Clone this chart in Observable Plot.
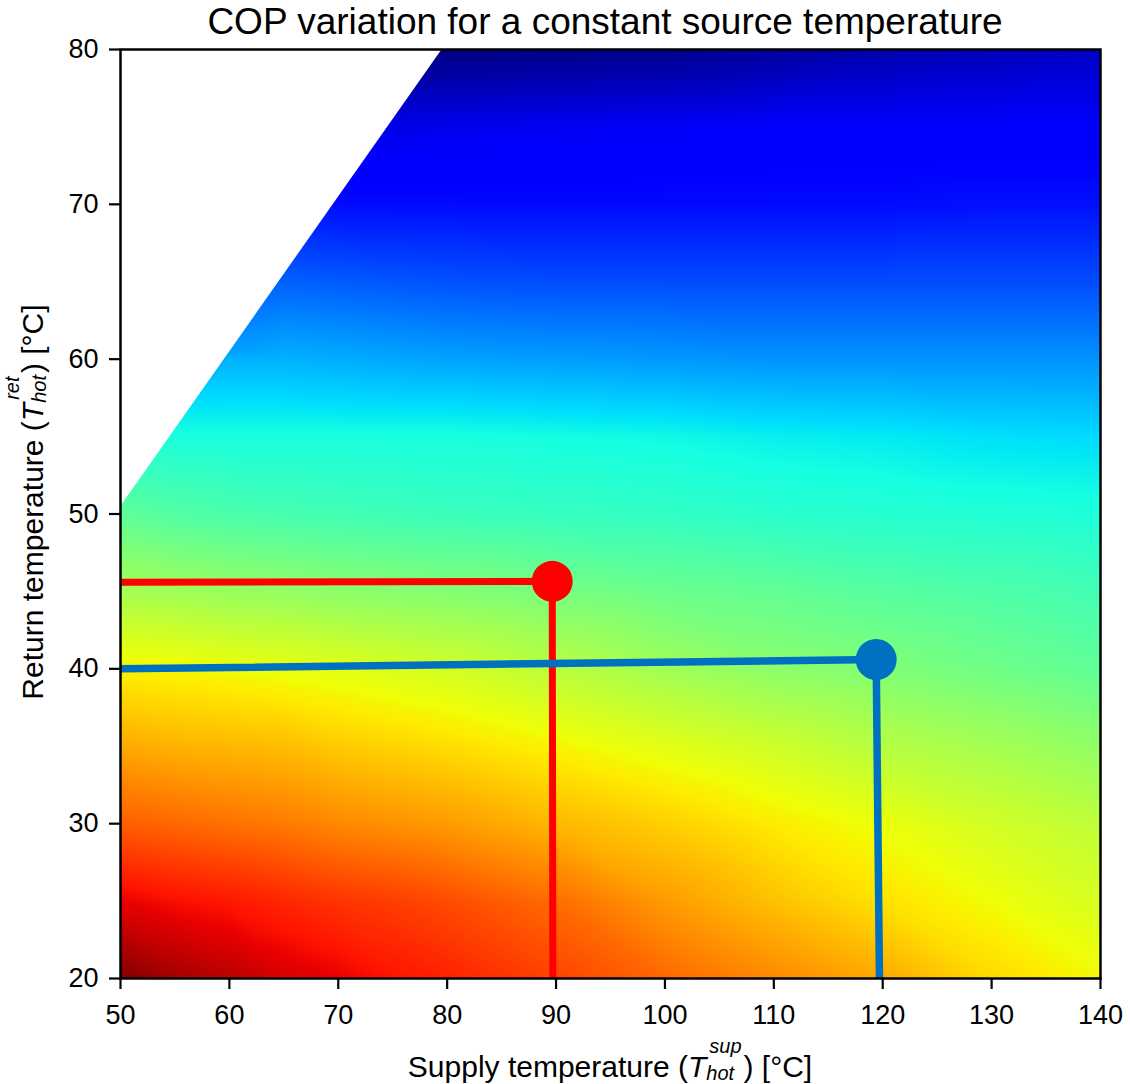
<!DOCTYPE html>
<html><head><meta charset="utf-8">
<script src="https://cdn.jsdelivr.net/npm/d3@7"></script>
<script src="https://cdn.jsdelivr.net/npm/@observablehq/plot@0.6"></script>
<style>
body{margin:0;background:#fff;}
#wrap{position:relative;width:1130px;height:1084px;font-family:"Liberation Sans",Arial,Helvetica,sans-serif;}
#title{position:absolute;left:0;top:0;width:1130px;padding-left:80px;box-sizing:border-box;text-align:center;font-size:37px;line-height:44px;color:#000;z-index:2;}
</style></head>
<body><div id="wrap"><div id="title">COP variation for a constant source temperature</div></div>
<script>
// Grid of supply (x) and return (y) temperatures, °C
const supplyTemps = [50, 55, 60, 65, 70, 75, 80, 90, 100, 110, 120, 130, 140];
const returnTemps = [20, 25, 30, 35, 40, 45, 50, 55, 60, 65, 70, 75, 80];
// Relative COP level (position on the jet colour map, 0 = lowest, 1 = highest); null = not computed (white)
const copLevel = [
  [1.00, 0.97, 0.95, 0.925, 0.91, 0.89, 0.875, 0.84, 0.80, 0.765, 0.73, 0.68, 0.645], // 20
  [0.91, 0.895, 0.885, 0.87, 0.855, 0.845, 0.83, 0.795, 0.745, 0.705, 0.67, 0.64, 0.61], // 25
  [0.81, 0.80, 0.79, 0.78, 0.765, 0.755, 0.745, 0.715, 0.69, 0.66, 0.635, 0.605, 0.58], // 30
  [0.73, 0.72, 0.715, 0.71, 0.695, 0.685, 0.675, 0.65, 0.625, 0.60, 0.57, 0.55, 0.525], // 35
  [0.655, 0.648, 0.64, 0.633, 0.625, 0.615, 0.605, 0.575, 0.545, 0.52, 0.505, 0.485, 0.465], // 40
  [0.55, 0.545, 0.535, 0.53, 0.52, 0.515, 0.51, 0.495, 0.48, 0.47, 0.455, 0.445, 0.43], // 45
  [0.465, 0.45, 0.44, 0.435, 0.43, 0.425, 0.42, 0.415, 0.41, 0.40, 0.395, 0.39, 0.385], // 50
  [null, 0.38, 0.38, 0.38, 0.38, 0.38, 0.38, 0.375, 0.37, 0.36, 0.355, 0.345, 0.34], // 55
  [null, null, 0.30, 0.30, 0.295, 0.29, 0.285, 0.28, 0.275, 0.27, 0.27, 0.27, 0.27], // 60
  [null, null, null, 0.22, 0.215, 0.21, 0.205, 0.20, 0.20, 0.20, 0.20, 0.20, 0.20], // 65
  [null, null, null, null, 0.135, 0.135, 0.135, 0.135, 0.135, 0.135, 0.135, 0.14, 0.14], // 70
  [null, null, null, null, null, 0.09, 0.095, 0.10, 0.105, 0.11, 0.11, 0.11, 0.11], // 75
  [null, null, null, null, null, null, 0.0, 0.005, 0.01, 0.025, 0.04, 0.05, 0.06] // 80
];
// Values read along the edge of the computed region (above it the map is blank)
const edgeSupply = [50, 55, 60, 65, 70, 75, 79.4];
const edgeReturn = [50.6, 55.6, 60.6, 65.6, 70.6, 75.6, 80];
const edgeLevel = [0.455, 0.37, 0.28, 0.21, 0.13, 0.08, 0.0];
// Axis ticks
const ticksSupply = [50, 60, 70, 80, 90, 100, 110, 120, 130, 140];
const ticksReturn = [20, 30, 40, 50, 60, 70, 80];
// Operating points and their guide lines
const redSupply = [50, 89.65, 89.7];
const redReturn = [45.6, 45.65, 20];
const blueSupply = [50, 119.4, 119.7];
const blueReturn = [40.0, 40.6, 20];

const cells = [];
returnTemps.forEach((r, i) => supplyTemps.forEach((s, j) => {
  const v = copLevel[i][j];
  if (v != null) cells.push({sup: s, ret: r, v});
}));
edgeSupply.forEach((s, i) => cells.push({sup: s, ret: edgeReturn[i], v: edgeLevel[i]}));
// white mask over the blank region, bounded by the edge (slight overlap hides extrapolation)
const mask = [
  {sup: edgeSupply[0], ret: edgeReturn[0] - 0.15},
  {sup: edgeSupply[edgeSupply.length - 1] + 0.15, ret: edgeReturn[edgeReturn.length - 1]}
];
const red = redSupply.map((s, i) => ({sup: s, ret: redReturn[i]}));
const blue = blueSupply.map((s, i) => ({sup: s, ret: blueReturn[i]}));

const jetStops = [0, 0.11, 0.125, 0.34, 0.35, 0.375, 0.64, 0.65, 0.66, 0.89, 0.91, 1];
const jetColors = ["rgb(0,0,128)", "rgb(0,0,255)", "rgb(0,0,255)", "rgb(0,219,255)", "rgb(0,230,247)",
  "rgb(21,255,226)", "rgb(239,255,8)", "rgb(247,245,0)", "rgb(255,236,0)", "rgb(255,19,0)", "rgb(232,0,0)", "rgb(128,0,0)"];

const FONT = '"Liberation Sans", Arial, Helvetica, sans-serif';
const xMin = supplyTemps[0], xMax = supplyTemps[supplyTemps.length - 1];
const yMin = returnTemps[0], yMax = returnTemps[returnTemps.length - 1];

const chart = Plot.plot({
  width: 1130, height: 1084,
  marginTop: 49, marginBottom: 106, marginLeft: 120, marginRight: 30,
  style: {fontFamily: FONT, fontSize: "27px", color: "black", background: "white"},
  x: {domain: [xMin, xMax], label: null},
  y: {domain: [yMin, yMax], label: null},
  color: {type: "linear", domain: jetStops, range: jetColors, interpolate: "rgb"},
  marks: [
    Plot.raster(cells, {x: "sup", y: "ret", fill: "v", interpolate: "barycentric",
      x1: xMin, x2: xMax, y1: yMin, y2: yMax}),
    Plot.areaX(mask, {y: "ret", x1: xMin, x2: "sup", fill: "white"}),
    Plot.line(red, {x: "sup", y: "ret", stroke: "#ff0000", strokeWidth: 7, strokeLinecap: "butt", strokeLinejoin: "miter"}),
    Plot.dot([red[1]], {x: "sup", y: "ret", r: 20.5, fill: "#ff0000"}),
    Plot.line(blue, {x: "sup", y: "ret", stroke: "#0070c0", strokeWidth: 7.5, strokeLinecap: "butt", strokeLinejoin: "miter"}),
    Plot.dot([blue[1]], {x: "sup", y: "ret", r: 20.5, fill: "#0070c0"}),
    Plot.axisX({ticks: ticksSupply, tickSize: 11, tickPadding: 15, fontSize: 27, strokeWidth: 2.2, label: null}),
    Plot.axisY({ticks: ticksReturn, tickSize: 11, tickPadding: 11, fontSize: 27, strokeWidth: 2.2, label: null}),
    Plot.frame({stroke: "black", strokeWidth: 2.5})
  ]
});
document.getElementById("wrap").appendChild(chart);

const svg = d3.select(chart);
function mathLabel(cx, cy, rotate, pre, sup, sub, post) {
  const g = svg.append("g");
  const text = g.append("text").attr("font-size", 30).attr("fill", "#000").attr("font-family", FONT);
  text.append("tspan").text(pre);
  text.append("tspan").attr("font-style", "italic").text("T");
  const s1 = text.append("tspan").attr("font-style", "italic").attr("font-size", 20).attr("dx", 3).attr("dy", -24).text(sup);
  const s2 = text.append("tspan").attr("font-style", "italic").attr("font-size", 20).attr("dy", 27).text(sub);
  const s3 = text.append("tspan").attr("dy", -3).text(post);
  const w1 = s1.node().getComputedTextLength();
  s2.attr("dx", -w1 - 3);
  const w2 = s2.node().getComputedTextLength();
  s3.attr("dx", Math.max(0, w1 + 3 - w2) + 2);
  const bb = text.node().getBBox();
  const off = -(bb.x + bb.width / 2);
  g.attr("transform", rotate ? `translate(${cx},${cy}) rotate(-90) translate(${off},0)` : `translate(${cx + off},${cy})`);
}
mathLabel(610, 1077, false, "Supply temperature (", "sup", "hot", ") [°C]");
mathLabel(43, 502, true, "Return temperature (", "ret", "hot", ") [°C]");
</script></body></html>
